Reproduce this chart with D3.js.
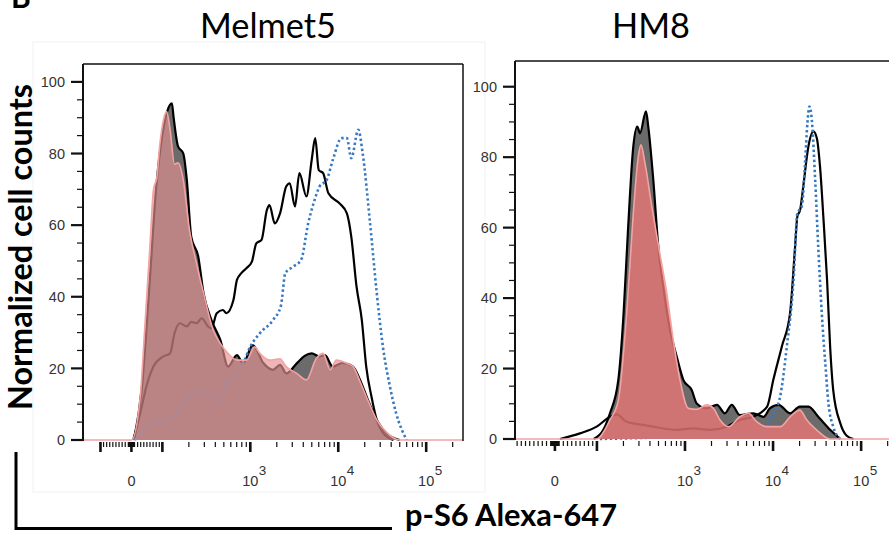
<!DOCTYPE html>
<html>
<head>
<meta charset="utf-8">
<script src="https://cdn.jsdelivr.net/npm/d3@7"></script>
<style>
  body { margin: 0; background: #fff; }
  svg { display: block; }
</style>
</head>
<body>
<svg id="chart" width="889" height="536"></svg>
<script>
// Flow-cytometry histograms of p-S6 (Alexa-647).
// Each series is a list of [position, count] pairs: position is the bin centre on the
// biexponential display axis (in decades, 0 = zero intensity), count is normalized to mode.

const panelTitles = ["Melmet5", "HM8"];
const yTickValues = [0, 20, 40, 60, 80, 100];
const xLabelPowers = [3, 4, 5];

// Melmet5
const melmetShaded = [[0.03,0],[0.12,15],[0.21,45],[0.28,70],[0.35,85],[0.41,92],[0.46,94],[0.48,90],
  [0.53,82],[0.59,80],[0.63,72.6],[0.68,56.8],[0.76,51.2],[0.82,41],[0.91,33.5],[1.01,28],[1.10,20.5],
  [1.20,23.7],[1.27,21.4],[1.38,26.5],[1.50,21.5],[1.61,19.6],[1.69,21],[1.76,18.6],[1.88,21.4],
  [1.97,23.5],[2.05,24.2],[2.14,23.3],[2.20,23.7],[2.29,20.5],[2.40,21.5],[2.52,20.5],[2.60,16.8],
  [2.69,11.2],[2.79,5.6],[2.90,1.9],[3.05,0]];
const melmetSolid = [[0.02,0],[0.10,7.5],[0.17,14.9],[0.25,20.5],[0.36,23.3],[0.44,24.2],[0.49,29.8],
  [0.55,32.6],[0.63,31.7],[0.68,33],[0.74,32.6],[0.80,34],[0.87,31.7],[0.91,31.2],[0.97,35.4],[1.04,36.3],
  [1.08,35.4],[1.16,39.1],[1.20,44.7],[1.25,46.6],[1.31,48],[1.37,49.8],[1.42,54.9],[1.48,55.9],
  [1.54,64.2],[1.57,65.6],[1.63,60.5],[1.69,63.3],[1.76,70.8],[1.80,71.7],[1.86,65.2],[1.91,74.5],
  [1.99,68],[2.05,78.2],[2.09,84.3],[2.13,75.4],[2.18,74.5],[2.24,68.9],[2.37,66],[2.45,63.3],
  [2.50,56.8],[2.56,42.8],[2.62,33.5],[2.67,20.5],[2.73,12.1],[2.79,5.6],[2.86,2],[2.98,0]];
const melmetDotted = [[0.04,0],[0.25,4.7],[0.44,5.6],[0.55,9.3],[0.66,12.1],[0.82,13.5],[0.89,13],
  [1.01,11.2],[1.08,15.8],[1.20,18.6],[1.27,21.4],[1.35,26],[1.46,29.8],[1.61,33.5],[1.70,37.5],
  [1.75,46.6],[1.84,48.4],[1.93,50.3],[2.01,60.5],[2.07,66],[2.14,70.8],[2.22,72.6],[2.29,78.2],
  [2.39,84.3],[2.45,84.3],[2.50,78.7],[2.58,86.6],[2.63,80],[2.71,61.5],[2.79,41],[2.86,26],
  [2.94,14.9],[3.01,7.5],[3.13,0]];
const melmetRose = [[0.00,0],[0.10,12],[0.15,30.7],[0.21,54],[0.25,69.8],[0.29,73.5],[0.32,81.9],
  [0.37,90],[0.40,91.7],[0.44,86.6],[0.49,77],[0.53,77.4],[0.59,72.6],[0.66,58.7],[0.74,49.4],[0.82,41],
  [0.93,30.7],[1.01,27],[1.08,24.7],[1.20,22.3],[1.31,22.3],[1.40,26],[1.46,24.2],[1.57,22.3],
  [1.69,22.7],[1.76,20.5],[1.88,18.6],[1.99,16.8],[2.10,22.7],[2.18,24.2],[2.26,19.6],[2.33,22.3],
  [2.45,21.4],[2.52,20.5],[2.60,16.3],[2.69,11],[2.79,5.6],[2.90,2.2],[3.05,0]];

// HM8
const hm8Shaded = [[0.44,0],[0.55,2.6],[0.625,7.3],[0.72,16.8],[0.78,35.7],[0.83,59.4],[0.89,83],
  [0.935,88.7],[0.966,86.8],[1.034,93],[1.06,88.7],[1.117,73.6],[1.174,54.6],[1.23,43.3],[1.307,31],
  [1.383,23.4],[1.458,16.8],[1.553,13.9],[1.61,10.1],[1.724,8.7],[1.84,9.7],[1.93,7.3],[2.008,9.7],
  [2.10,6.8],[2.25,7.3],[2.37,6.3],[2.44,8.7],[2.54,9.7],[2.67,7.3],[2.78,9.2],[2.88,9.2],[2.99,6.3],
  [3.125,2.6],[3.24,0]];
const hm8Solid = [[0.057,0],[0.284,1.6],[0.474,3.5],[0.625,6.3],[0.70,7],[0.815,4.9],[1.00,4],
  [1.117,3.5],[1.383,2.6],[1.57,3],[1.76,2.6],[1.95,3.5],[2.10,5.4],[2.25,6.3],[2.41,9.2],[2.48,16.8],
  [2.576,26.2],[2.67,35.7],[2.727,54.6],[2.753,63.2],[2.784,65],[2.82,71.7],[2.878,83],[2.935,87.3],
  [2.974,85.4],[3.01,77.4],[3.05,62.2],[3.09,45.2],[3.125,26.2],[3.16,13.9],[3.24,4.5],[3.31,1],[3.39,0]];
const hm8Dotted = [[0.51,0],[1.65,0.8],[2.33,1.5],[2.48,7.3],[2.557,12],[2.633,26.2],[2.71,45.2],
  [2.753,64.1],[2.803,66],[2.84,78.3],[2.867,89.7],[2.89,94.4],[2.917,90.6],[2.955,73.6],[2.99,54.6],
  [3.03,35.7],[3.07,21.5],[3.106,10.1],[3.16,3.5],[3.24,0]];
const hm8Rose = [[0.47,0],[0.625,5.4],[0.72,11],[0.815,35.7],[0.89,64],[0.947,80.2],[0.977,83.5],
  [1.023,78.3],[1.10,66],[1.19,52.8],[1.27,41.4],[1.344,28.1],[1.42,16.8],[1.515,8.7],[1.61,8.4],
  [1.724,9.7],[1.80,8.7],[1.875,5.4],[1.97,3.5],[2.10,6.3],[2.20,7.3],[2.29,4.9],[2.41,3.5],[2.56,3.5],
  [2.67,6.3],[2.78,8.2],[2.86,5.4],[2.97,2.6],[3.125,0]];

// Biexponential display: linear between -100 and 100 (width w decades), log10 beyond.
function biex(v, w) {
  const a = Math.abs(v);
  if (a <= 100) return v / 100 * w;
  return Math.sign(v) * (w + Math.log10(a / 100));
}

const panels = [
  { title: panelTitles[0], shaded: melmetShaded, solid: melmetSolid, dotted: melmetDotted, rose: melmetRose,
    w: 0.352, vMin: -158, vMax: 262144, left: 83, right: 463, top: 64, bottom: 440, yMax: 105,
    titleX: 268, labelX: 65, roseFill: "rgb(228,146,146)", roseOpacity: 0.66 },
  { title: panelTitles[1], shaded: hm8Shaded, solid: hm8Solid, dotted: hm8Dotted, rose: hm8Rose,
    w: 0.477, vMin: -95, vMax: 262144, left: 515, right: 898, top: 61, bottom: 439, yMax: 107.3,
    titleX: 651, labelX: 497, roseFill: "rgb(232,118,118)", roseOpacity: 0.8 }
];

const svg = d3.select("#chart");
const tickFont = "'Liberation Sans', Arial, sans-serif";
const bigFont = "Lato, 'Open Sans', sans-serif";

function fitWidth(sel, target) {
  const w = sel.node().getComputedTextLength();
  const fs = parseFloat(sel.attr("font-size"));
  sel.attr("font-size", (fs * target / w).toFixed(2));
}

// faint outline of the figure block
svg.append("rect").attr("x", 33).attr("y", 42).attr("width", 452).attr("height", 450)
  .attr("fill", "none").attr("stroke", "#f1f1f1").attr("stroke-width", 1);

panels.forEach(p => {
  const g = svg.append("g");
  const x = d3.scaleLinear()
    .domain([biex(p.vMin, p.w), biex(p.vMax, p.w)])
    .range([p.left, p.right]);
  const y = d3.scaleLinear().domain([0, p.yMax]).range([p.bottom, p.top]);

  const line = d3.line().x(d => x(d[0])).y(d => y(d[1])).curve(d3.curveMonotoneX);
  const area = d3.area().x(d => x(d[0])).y0(y(0)).y1(d => y(d[1])).curve(d3.curveMonotoneX);

  const clipId = "clip-" + p.title;
  g.append("clipPath").attr("id", clipId).append("rect")
    .attr("x", p.left).attr("y", p.top).attr("width", p.right - p.left).attr("height", p.bottom - p.top + 2);
  const plot = g.append("g").attr("clip-path", `url(#${clipId})`);

  // shaded histogram with black outline
  plot.append("path").datum(p.shaded).attr("d", area).attr("fill", "#6b6b6b");
  plot.append("path").datum(p.shaded).attr("d", line)
    .attr("fill", "none").attr("stroke", "#000").attr("stroke-width", 2.2).attr("stroke-linejoin", "round");

  // solid black histogram
  plot.append("path").datum(p.solid).attr("d", line)
    .attr("fill", "none").attr("stroke", "#000").attr("stroke-width", 2.2).attr("stroke-linejoin", "round");

  // dotted blue histogram
  plot.append("path").datum(p.dotted).attr("d", line)
    .attr("fill", "none").attr("stroke", "#3779c0").attr("stroke-width", 2.6)
    .attr("stroke-dasharray", "2.4,2.6");

  // translucent rose histogram drawn on top
  const xd = x.domain();
  const roseFull = [[xd[0], 0], ...p.rose, [xd[1], 0]];
  plot.append("path").datum(roseFull).attr("d", area)
    .attr("fill", p.roseFill).attr("fill-opacity", p.roseOpacity);
  plot.append("path").datum(roseFull).attr("d", line)
    .attr("fill", "none").attr("stroke", "#f4a3a3").attr("stroke-width", 1.6);

  // frame: y axis, top and right borders
  g.append("line").attr("x1", p.left).attr("x2", p.left).attr("y1", p.top).attr("y2", p.bottom + 1)
    .attr("stroke", "#111").attr("stroke-width", 2);
  g.append("line").attr("x1", p.left).attr("x2", p.right).attr("y1", p.top).attr("y2", p.top)
    .attr("stroke", "#111").attr("stroke-width", 1.5);
  g.append("line").attr("x1", p.right).attr("x2", p.right).attr("y1", p.top).attr("y2", p.bottom + 1)
    .attr("stroke", "#111").attr("stroke-width", 1.5);

  // y ticks
  const yMinor = d3.range(0, 101, 5);
  yMinor.forEach(v => {
    const major = v % 20 === 0;
    g.append("line")
      .attr("x1", p.left - (major ? 12 : 6)).attr("x2", p.left)
      .attr("y1", y(v)).attr("y2", y(v))
      .attr("stroke", "#111").attr("stroke-width", major ? 2.2 : 1.2);
  });
  yTickValues.forEach(v => {
    g.append("text").attr("x", p.labelX).attr("y", y(v)).attr("dy", "0.36em")
      .attr("text-anchor", "end").attr("font-family", tickFont).attr("font-size", 14.5)
      .attr("fill", "#333").text(v);
  });

  // x ticks on the biexponential scale
  const xt = [0];
  [1, 10, 100, 1000, 10000, 100000].forEach(d => {
    for (let m = 1; m <= 9; m++) { xt.push(m * d); xt.push(-m * d); }
  });
  const xRange = x.range();
  xt.forEach(v => {
    const px = x(biex(v, p.w));
    if (px < xRange[0] + 1 || px > xRange[1]) return;
    const a = Math.abs(v);
    const major = v === 0 || (a >= 100 && Math.log10(a) % 1 === 0);
    g.append("line").attr("x1", px).attr("x2", px)
      .attr("y1", p.bottom + 2).attr("y2", p.bottom + (major ? 12 : 7))
      .attr("stroke", "#111").attr("stroke-width", major ? 2.6 : 1.2);
  });

  // x tick labels: 0 and powers of ten
  const labelY = 486;
  g.append("text").attr("x", x(biex(0, p.w))).attr("y", labelY).attr("text-anchor", "middle")
    .attr("font-family", tickFont).attr("font-size", 14.5).attr("fill", "#333").text("0");
  xLabelPowers.forEach(e => {
    const px = x(biex(Math.pow(10, e), p.w));
    g.append("text").attr("x", px).attr("y", labelY).attr("text-anchor", "middle")
      .attr("font-family", tickFont).attr("font-size", 14.5).attr("fill", "#333").text("10");
    g.append("text").attr("x", px + 8.5).attr("y", labelY - 11).attr("text-anchor", "start")
      .attr("font-family", tickFont).attr("font-size", 13.5).attr("fill", "#333").text(e);
  });

  // panel title
  const t = svg.append("text").attr("x", p.titleX).attr("y", 37.5).attr("text-anchor", "middle")
    .attr("font-family", bigFont).attr("font-size", 30).attr("fill", "#000").text(p.title);
  p.titleSel = t;
});

// size titles to a common font size from the first one
fitWidth(panels[0].titleSel, 136);
panels[1].titleSel.attr("font-size", panels[0].titleSel.attr("font-size"));

// panel letter
svg.append("text").attr("x", 11).attr("y", 8).attr("font-family", bigFont).attr("font-weight", 700)
  .attr("font-size", 30).text("B");

// y axis title
const yTitle = svg.append("text")
  .attr("transform", "translate(32,247) rotate(-90)")
  .attr("text-anchor", "middle").attr("font-family", bigFont).attr("font-weight", 700)
  .attr("font-size", 30).attr("fill", "#000").text("Normalized cell counts");
fitWidth(yTitle, 326);

// x axis bracket and title
svg.append("path").attr("d", "M16,452 V528.5 H392")
  .attr("fill", "none").attr("stroke", "#000").attr("stroke-width", 3);
const xTitle = svg.append("text").attr("x", 405).attr("y", 526)
  .attr("font-family", bigFont).attr("font-weight", 700).attr("font-size", 30)
  .attr("fill", "#000").text("p-S6 Alexa-647");
fitWidth(xTitle, 212);
</script>
</body>
</html>
